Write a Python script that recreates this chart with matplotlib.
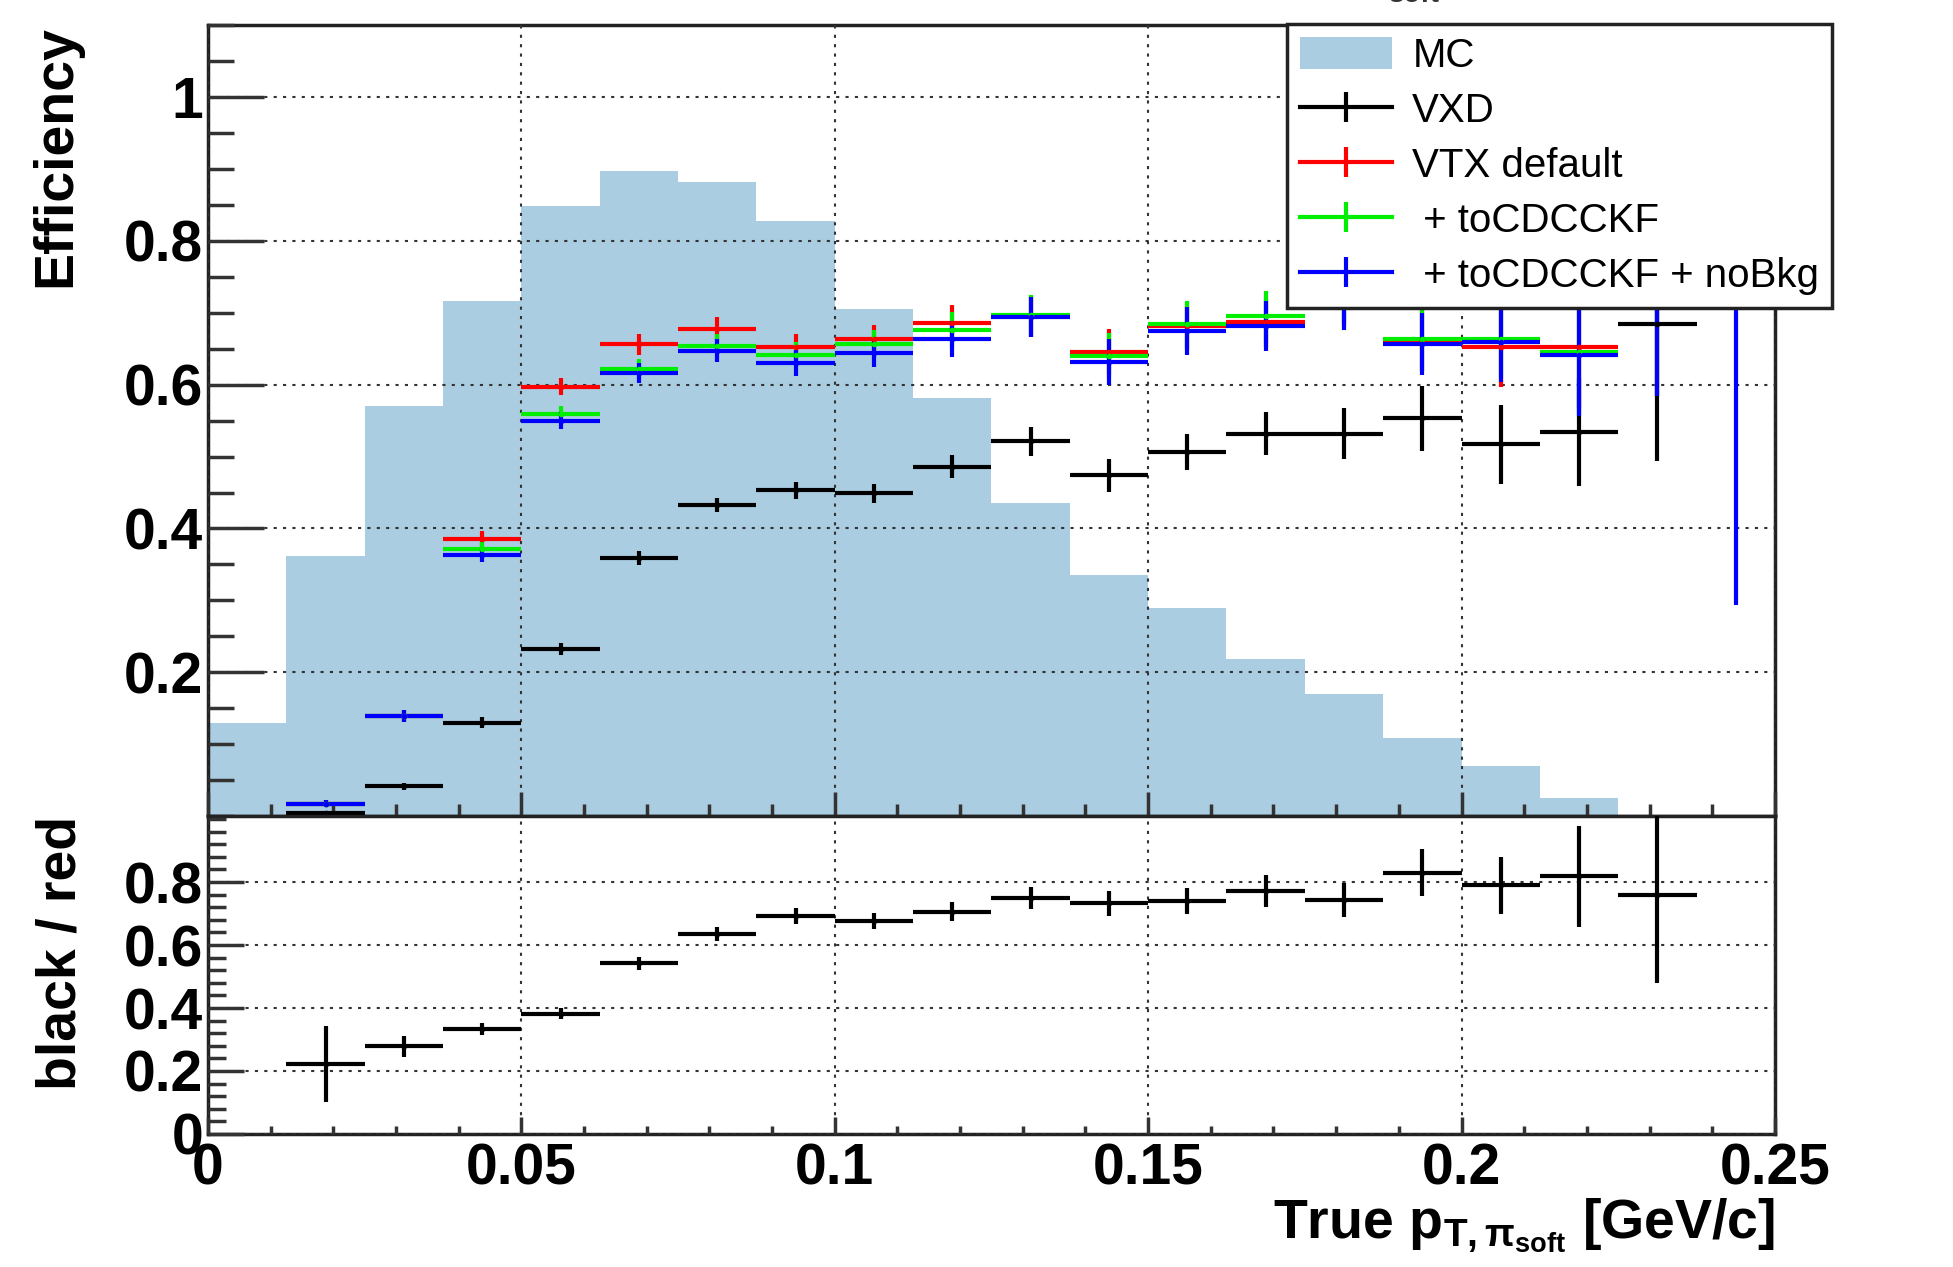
import numpy as np
import matplotlib
matplotlib.use('Agg')
import matplotlib.pyplot as plt
from matplotlib.patches import Patch
from matplotlib.lines import Line2D
from matplotlib.ticker import MultipleLocator, FuncFormatter

plt.rcParams['font.family'] = ['Liberation Sans', 'DejaVu Sans']
plt.rcParams['mathtext.fontset'] = 'custom'
plt.rcParams['mathtext.rm'] = 'Liberation Sans:bold'
plt.rcParams['mathtext.it'] = 'Liberation Sans:bold'
plt.rcParams['mathtext.bf'] = 'Liberation Sans:bold'

# 20 bins of 0.0125 GeV/c
edges = np.linspace(0.0, 0.25, 21)
nan = np.nan

mc = [0.130, 0.361, 0.570, 0.717, 0.849, 0.898, 0.882, 0.828, 0.706, 0.581,
      0.435, 0.335, 0.289, 0.219, 0.169, 0.108, 0.069, 0.025, 0.0, 0.0]

vxd = [nan, 0.004, 0.041, 0.130, 0.232, 0.359, 0.433, 0.453, 0.449, 0.486,
       0.521, 0.474, 0.506, 0.532, 0.532, 0.553, 0.517, 0.534, 0.684, nan]
vxd_err = [nan, 0.003, 0.005, 0.007, 0.008, 0.010, 0.010, 0.012, 0.013, 0.016,
           0.020, 0.023, 0.025, 0.030, 0.035, 0.045, 0.055, 0.075, 0.19, nan]

vtx = [nan, 0.017, 0.139, 0.386, 0.597, 0.656, 0.678, 0.653, 0.663, 0.686,
       0.695, 0.646, 0.681, 0.687, 0.716, 0.662, 0.652, 0.652, 0.900, nan]
cdc = [nan, 0.017, 0.139, 0.371, 0.559, 0.622, 0.654, 0.642, 0.656, 0.676,
       0.697, 0.640, 0.684, 0.695, 0.720, 0.664, 0.664, 0.645, 0.900, nan]
nobkg = [nan, 0.017, 0.139, 0.363, 0.550, 0.616, 0.647, 0.630, 0.644, 0.664,
         0.694, 0.632, 0.675, 0.682, 0.712, 0.657, 0.659, 0.641, 0.900, 1.0]
vtx_err = [nan, 0.005, 0.008, 0.010, 0.012, 0.014, 0.016, 0.018, 0.020, 0.025,
           0.028, 0.032, 0.033, 0.035, 0.036, 0.043, 0.055, 0.085, 0.316, 0.706]

ratio = [nan, 0.222, 0.278, 0.333, 0.382, 0.542, 0.635, 0.693, 0.677, 0.706,
         0.749, 0.732, 0.740, 0.771, 0.743, 0.830, 0.790, 0.818, 0.760, nan]
ratio_err = [nan, 0.12, 0.034, 0.020, 0.018, 0.020, 0.023, 0.026, 0.026, 0.030,
             0.034, 0.040, 0.040, 0.050, 0.055, 0.075, 0.090, 0.160, 0.280, nan]

centers = 0.5 * (edges[1:] + edges[:-1])
half = 0.5 * (edges[1] - edges[0])

fig = plt.figure(figsize=(19.53, 12.67), dpi=100)
L, R = 0.1065, 0.9088
ax = fig.add_axes([L, 0.356, R - L, 0.980 - 0.356])
axr = fig.add_axes([L, 0.105, R - L, 0.356 - 0.105], sharex=ax)

ax.stairs(mc, edges, fill=True, color='#abcde2', zorder=1)

series = [(vxd, vxd_err, 'black'), (vtx, vtx_err, '#ff0000'),
          (cdc, vtx_err, '#00ee00'), (nobkg, vtx_err, '#0000ff')]
for vals, errs, col in series:
    ax.errorbar(centers, vals, xerr=half, yerr=errs, fmt='o', ms=3,
                color=col, ecolor=col, elinewidth=3, capsize=0, zorder=3)

axr.errorbar(centers, ratio, xerr=half, yerr=ratio_err, fmt='o', ms=3,
             color='black', elinewidth=3, capsize=0, zorder=3)

fmt = FuncFormatter(lambda v, p: '%g' % round(v, 3))
for a in (ax, axr):
    a.set_xlim(0, 0.25)
    a.xaxis.set_major_locator(MultipleLocator(0.05))
    a.xaxis.set_minor_locator(MultipleLocator(0.01))
    a.yaxis.set_major_locator(MultipleLocator(0.2))
    a.yaxis.set_major_formatter(fmt)
    a.xaxis.set_major_formatter(fmt)
    a.grid(True, which='major', color='#333333', linestyle=(0, (1.5, 3)), lw=1.5)
    a.set_axisbelow(False)
    for s in a.spines.values():
        s.set_linewidth(2.5)
        s.set_color('#222222')
    a.tick_params(axis='both', which='both', direction='in', labelsize=41,
                  width=2.5, color='#333333')

ax.set_ylim(0, 1.1)
ax.yaxis.set_minor_locator(MultipleLocator(0.05))
ax.set_yticks([0.2, 0.4, 0.6, 0.8, 1.0])
ax.tick_params(axis='x', labelbottom=False)
ax.tick_params(axis='y', which='major', length=40)
ax.tick_params(axis='y', which='minor', length=19)
ax.tick_params(axis='x', which='major', length=17)
ax.tick_params(axis='x', which='minor', length=9)
ax.set_ylabel('Efficiency', fontsize=40, fontweight='bold', loc='top', labelpad=30)

axr.set_ylim(0, 1.01)
axr.set_yticks([0, 0.2, 0.4, 0.6, 0.8])
axr.yaxis.set_minor_locator(MultipleLocator(0.04))
axr.tick_params(axis='y', which='major', length=26)
axr.tick_params(axis='y', which='minor', length=13)
axr.tick_params(axis='x', which='major', length=12, pad=6)
axr.tick_params(axis='x', which='minor', length=6)
for lab in axr.get_xticklabels() + axr.get_yticklabels() + ax.get_yticklabels():
    lab.set_fontweight('bold')
axr.set_ylabel('black / red', fontsize=40, fontweight='bold', loc='top', labelpad=26)
axr.set_xlabel(r'True p$_{T,\pi_{soft}}$ [GeV/c]', fontsize=40,
               fontweight='bold', loc='right', labelpad=0)

handles = [Patch(facecolor='#abcde2', edgecolor='none')]
for vals, errs, col in series:
    handles.append(Line2D([], [], color=col, lw=3, marker='|', markersize=22,
                          markeredgewidth=3))
labels = ['MC', 'VXD', 'VTX default', ' + toCDCCKF', ' + toCDCCKF + noBkg']
leg = fig.legend(handles, labels, loc='upper left', bbox_to_anchor=(0.6588, 0.981),
                 fontsize=29, frameon=True, fancybox=False, framealpha=1,
                 edgecolor='#222222', borderpad=0.32, labelspacing=0.42,
                 handlelength=2.3, handleheight=0.85, handletextpad=0.5,
                 borderaxespad=0)
leg.get_frame().set_linewidth(2.5)
leg.set_zorder(10)

fig.text(1135 / 1568, 1.004, 'soft', ha='center', va='center', fontsize=20,
         fontweight='bold', color='#333333')

fig.savefig('out.png', dpi=100)
